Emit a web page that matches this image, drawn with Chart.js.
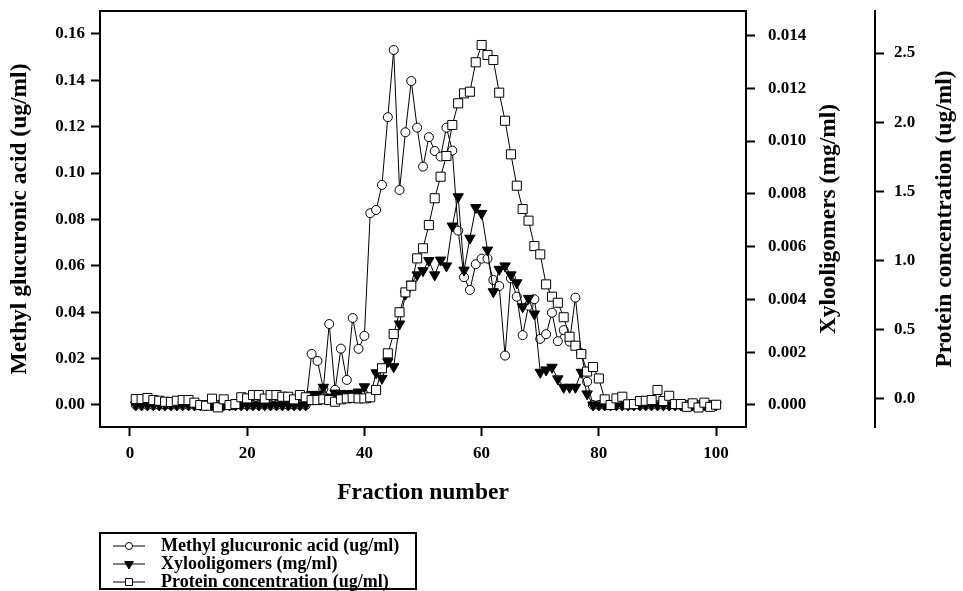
<!DOCTYPE html>
<html>
<head>
<meta charset="utf-8">
<script src="https://cdn.jsdelivr.net/npm/chart.js@4.4.1/dist/chart.umd.min.js"></script>
<style>
  html, body { margin: 0; padding: 0; background: #fff; }
  #wrap { width: 963px; height: 591px; position: relative; }
</style>
</head>
<body>
<div id="wrap"><canvas id="c" width="963" height="591"></canvas></div>
<script>
// Fraction numbers collected from the column
const fractions = [
  1, 2, 3, 4, 5, 6, 7, 8, 9, 10, 11, 12, 13, 14, 15, 16, 17, 18, 19, 20,
  21, 22, 23, 24, 25, 26, 27, 28, 29, 30, 31, 32, 33, 34, 35, 36, 37, 38, 39, 40,
  41, 42, 43, 44, 45, 46, 47, 48, 49, 50, 51, 52, 53, 54, 55, 56, 57, 58, 59, 60,
  61, 62, 63, 64, 65, 66, 67, 68, 69, 70, 71, 72, 73, 74, 75, 76, 77, 78, 79, 80,
  81, 82, 83, 84, 85, 86, 87, 88, 89, 90, 91, 92, 93, 94, 95, 96, 97, 98, 99, 100
];

// Methyl glucuronic acid (ug/ml)
const methylGlucuronic = [
  0, 0, 0, 0, 0, 0, 0, 0, 0, 0, 0, 0, 0, 0, 0, 0, 0, 0, 0, 0,
  0, 0, 0, 0, 0, 0, 0, 0, 0, 0, 0.0220, 0.0190, 0.0070, 0.0349, 0.0065, 0.0243, 0.0108, 0.0375, 0.0242, 0.0298,
  0.0827, 0.0841, 0.0949, 0.1241, 0.1531, 0.0927, 0.1176, 0.1397, 0.1196, 0.1028, 0.1155, 0.1095, 0.1071, 0.1196, 0.1097, 0.0752, 0.0551, 0.0496, 0.0607, 0.0631,
  0.0631, 0.0539, 0.0513, 0.0213, 0.0546, 0.0467, 0.0301, 0.0428, 0.0456, 0.0285, 0.0305, 0.0398, 0.0275, 0.0323, 0.0273, 0.0463, 0.0223, 0.0100, 0, 0,
  0, 0, 0, 0, 0, 0, 0, 0, 0, 0, 0, 0, 0, 0, 0, 0, 0, 0, 0, 0
];

// Xylooligomers (mg/ml)
const xylooligomers = [
  0, 0, 0, 0, 0, 0, 0, 0, 0, 0, 0, 0, 0, 0, 0, 0, 0, 0, 0, 0,
  0, 0, 0, 0, 0, 0, 0, 0, 0, 0, 0.0004, 0.0004, 0.00067, 0.0003, 0.00045, 0.00044, 0.00042, 0.00044, 0.00049, 0.00069,
  0.0003, 0.00122, 0.00101, 0.00164, 0.00145, 0.00307, 0.0042, 0.00458, 0.00493, 0.00509, 0.00547, 0.00493, 0.00549, 0.00527, 0.00678, 0.00789, 0.00511, 0.00632, 0.00748, 0.00726,
  0.00587, 0.00429, 0.00514, 0.00527, 0.00493, 0.00463, 0.00372, 0.00404, 0.00345, 0.00124, 0.00133, 0.00143, 0.00099, 0.00067, 0.00067, 0.00067, 0.00124, 0.00042, 0, 0,
  0, 0, 0, 0, 0, 0, 0, 0, 0, 0, 0, 0, 0, 0, 0, 0, 0, 0, 0, 0
];

// Protein concentration (ug/ml)
const proteinConc = [
  -0.004, -0.004, 0.004, -0.011, -0.016, -0.023, -0.025, -0.016, -0.011, -0.011, -0.030, -0.047, -0.052, -0.001, -0.064, -0.006, -0.047, -0.040, 0.009, 0.001,
  0.025, 0.025, 0.000, 0.025, 0.025, 0.013, 0.013, -0.006, 0.025, 0.009, -0.011, -0.011, -0.006, -0.011, -0.023, -0.006, 0.001, 0.005, 0.001, 0.001,
  0.009, 0.062, 0.219, 0.327, 0.467, 0.624, 0.768, 0.816, 1.014, 1.087, 1.255, 1.449, 1.605, 1.755, 1.979, 2.136, 2.208, 2.220, 2.433, 2.558,
  2.486, 2.449, 2.213, 2.010, 1.767, 1.540, 1.371, 1.287, 1.103, 1.043, 0.826, 0.737, 0.693, 0.588, 0.447, 0.382, 0.322, 0.195, 0.228, 0.145,
  -0.006, -0.047, 0.001, 0.013, -0.042, -0.040, -0.018, -0.016, -0.011, 0.062, -0.018, 0.020, -0.040, -0.040, -0.060, -0.035, -0.065, -0.030, -0.060, -0.045
];

// Axis tick values
const fractionTicks = [0, 20, 40, 60, 80, 100];
const mgaTicks = [0, 0.02, 0.04, 0.06, 0.08, 0.10, 0.12, 0.14, 0.16];
const xyloTicks = [0, 0.002, 0.004, 0.006, 0.008, 0.010, 0.012, 0.014];
const proteinTicks = [0, 0.5, 1.0, 1.5, 2.0, 2.5];

const FAMILY = '"Liberation Serif", "Times New Roman", serif';
const tickFont = { family: FAMILY, size: 17, weight: 'bold' };
const titleFont = { family: FAMILY, size: 23.5, weight: 'bold' };

const toPoints = vals => fractions.map((f, i) => ({ x: f, y: vals[i] }));
const fixedTicks = list => scale => { scale.ticks = list.map(v => ({ value: v })); };

const grid = { drawOnChartArea: false, drawTicks: true, tickLength: 9, tickWidth: 2, tickColor: '#000' };
const border = { display: true, color: '#000', width: 2 };

// Closed frame around the plotting area
const framePlugin = {
  id: 'frame',
  afterDraw(chart) {
    const { ctx, chartArea: a } = chart;
    ctx.save();
    ctx.strokeStyle = '#000';
    ctx.lineWidth = 2;
    ctx.strokeRect(a.left, a.top, a.right - a.left, a.bottom - a.top);
    ctx.restore();
  }
};

// Titles of the two right-hand axes, read bottom to top
const rightTitlesPlugin = {
  id: 'rightTitles',
  afterDraw(chart) {
    const { ctx, chartArea: a, scales } = chart;
    const cy = (a.top + a.bottom) / 2;
    const items = [
      { text: 'Xylooligomers (mg/ml)', x: scales.yXylo.right - 46 },
      { text: 'Protein concentration (ug/ml)', x: scales.yProtein.right - 18 }
    ];
    ctx.save();
    ctx.fillStyle = '#000';
    ctx.font = 'bold 23.5px ' + FAMILY;
    ctx.textAlign = 'center';
    ctx.textBaseline = 'middle';
    items.forEach(it => {
      ctx.save();
      ctx.translate(it.x, cy);
      ctx.rotate(-Math.PI / 2);
      ctx.fillText(it.text, 0, 0);
      ctx.restore();
    });
    ctx.restore();
  }
};

function drawMarker(ctx, style, x, y, r, fill) {
  ctx.beginPath();
  if (style === 'circle') {
    ctx.arc(x, y, r, 0, Math.PI * 2);
  } else if (style === 'rect') {
    ctx.rect(x - r, y - r, 2 * r, 2 * r);
  } else {
    // downward triangle
    ctx.moveTo(x, y + r);
    ctx.lineTo(x - r * 0.866, y - r * 0.5);
    ctx.lineTo(x + r * 0.866, y - r * 0.5);
    ctx.closePath();
  }
  ctx.fillStyle = fill;
  ctx.fill();
  ctx.lineWidth = 1;
  ctx.strokeStyle = '#000';
  ctx.stroke();
}

// Boxed legend under the axis title
const boxLegendPlugin = {
  id: 'boxLegend',
  afterDraw(chart) {
    const { ctx } = chart;
    const box = { x: 100, y: 533, w: 316, h: 56 };
    const byId = id => chart.data.datasets.find(d => d.yAxisID === id);
    const rows = [
      { ds: byId('yMGA'), style: 'circle', r: 3.5, fill: '#fff' },
      { ds: byId('yXylo'), style: 'tri', r: 5, fill: '#000' },
      { ds: byId('yProtein'), style: 'rect', r: 3.5, fill: '#fff' }
    ];
    ctx.save();
    ctx.strokeStyle = '#000';
    ctx.lineWidth = 2;
    ctx.strokeRect(box.x, box.y, box.w, box.h);
    ctx.font = 'bold 18px ' + FAMILY;
    ctx.textBaseline = 'middle';
    ctx.textAlign = 'left';
    rows.forEach((row, i) => {
      const y = box.y + 13 + i * 18;
      ctx.beginPath();
      ctx.moveTo(113, y);
      ctx.lineTo(145, y);
      ctx.lineWidth = 1;
      ctx.strokeStyle = '#000';
      ctx.stroke();
      drawMarker(ctx, row.style, 129, y, row.r, row.fill);
      ctx.fillStyle = '#000';
      ctx.fillText(row.ds.label, 161, y);
    });
    ctx.restore();
  }
};

new Chart(document.getElementById('c'), {
  type: 'line',
  data: {
    datasets: [
      {
        label: 'Methyl glucuronic acid (ug/ml)',
        data: toPoints(methylGlucuronic),
        yAxisID: 'yMGA',
        order: 2,
        borderColor: '#000', borderWidth: 1, tension: 0, fill: false,
        pointStyle: 'circle', pointRadius: 4.5,
        pointBackgroundColor: '#fff', pointBorderColor: '#000', pointBorderWidth: 1
      },
      {
        label: 'Xylooligomers (mg/ml)',
        data: toPoints(xylooligomers),
        yAxisID: 'yXylo',
        order: 1,
        borderColor: '#000', borderWidth: 1, tension: 0, fill: false,
        pointStyle: 'triangle', pointRotation: 180, pointRadius: 6,
        pointBackgroundColor: '#000', pointBorderColor: '#000', pointBorderWidth: 1
      },
      {
        label: 'Protein concentration (ug/ml)',
        data: toPoints(proteinConc),
        yAxisID: 'yProtein',
        order: 0,
        borderColor: '#000', borderWidth: 1, tension: 0, fill: false,
        pointStyle: 'rect', pointRadius: 6.4,
        pointBackgroundColor: '#fff', pointBorderColor: '#000', pointBorderWidth: 1
      }
    ]
  },
  options: {
    responsive: false,
    animation: false,
    devicePixelRatio: 1,
    layout: { padding: { left: 0, right: 0, top: 11, bottom: 84 } },
    plugins: { legend: { display: false }, tooltip: { enabled: false } },
    scales: {
      x: {
        type: 'linear', position: 'bottom', min: -5.1, max: 105.1,
        afterBuildTicks: fixedTicks(fractionTicks),
        ticks: { font: tickFont, color: '#000', padding: 7, maxRotation: 0, autoSkip: false, callback: v => String(v) },
        grid, border,
        title: { display: true, text: 'Fraction number', font: titleFont, color: '#000', padding: { top: 0, bottom: 0 } },
        afterFit: s => { s.height = 80; s.paddingLeft = 0; s.paddingRight = 0; }
      },
      yMGA: {
        type: 'linear', position: 'left', min: -0.0095, max: 0.1699,
        afterBuildTicks: fixedTicks(mgaTicks),
        ticks: { font: tickFont, color: '#000', padding: 6, callback: v => v.toFixed(2) },
        grid, border,
        title: { display: true, text: 'Methyl glucuronic acid (ug/ml)', font: titleFont, color: '#000', padding: { top: 6, bottom: 0 } },
        afterFit: s => { s.width = 100; s.paddingTop = 0; s.paddingBottom = 0; }
      },
      yXylo: {
        type: 'linear', position: 'right', weight: 0, min: -0.000834, max: 0.014928,
        afterBuildTicks: fixedTicks(xyloTicks),
        ticks: { font: tickFont, color: '#000', padding: 13, callback: v => v.toFixed(3) },
        grid, border,
        afterFit: s => { s.width = 129; s.paddingTop = 0; s.paddingBottom = 0; }
      },
      yProtein: {
        type: 'linear', position: 'right', weight: 1, min: -0.206, max: 2.804,
        afterBuildTicks: fixedTicks(proteinTicks),
        ticks: { font: tickFont, color: '#000', padding: 10, callback: v => v.toFixed(1) },
        grid, border,
        afterFit: s => { s.width = 88; s.paddingTop = 0; s.paddingBottom = 0; }
      }
    }
  },
  plugins: [framePlugin, rightTitlesPlugin, boxLegendPlugin]
});
</script>
</body>
</html>
